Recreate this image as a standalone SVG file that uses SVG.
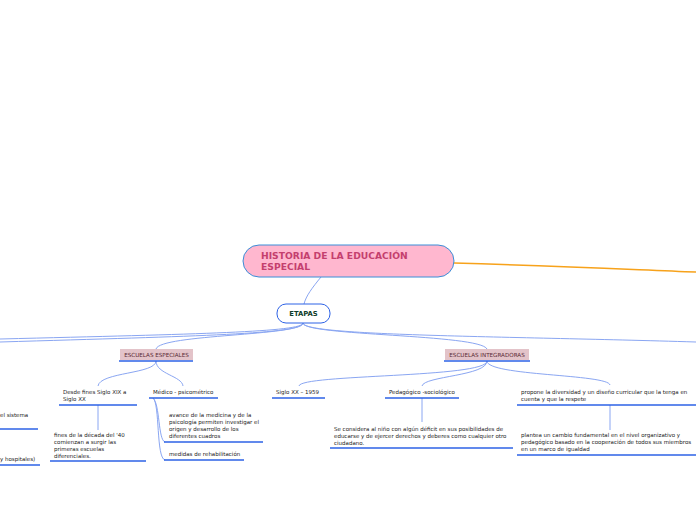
<svg xmlns="http://www.w3.org/2000/svg" width="696" height="520" viewBox="0 0 696 520">
<style>
.t{font-family:"DejaVu Sans",Verdana,sans-serif;font-size:5.5px;fill:#222}
.c{fill:none;stroke:#8aa6f2;stroke-width:1}
.u{stroke:#2d62e6;stroke-width:1.5;fill:none}
.lab{fill:#e3c3c9}
.lt{font-family:"DejaVu Sans",Verdana,sans-serif;font-size:5.6px;fill:#5a2a35}
</style>
<rect width="696" height="520" fill="#fff"/>
<g id="connectors">
<path d="M454,263 C560,266 620,269 696,272" stroke="#f7a21b" stroke-width="1.5" fill="none"/>
<path class="c" d="M321,277 C312,288 306,296 304,304" stroke="#3d7ee6"/>
<path class="c" d="M303,323 C303,332 200,334 0,339"/>
<path class="c" d="M303,323 C303,334 200,336 0,342"/>
<path class="c" d="M303,323 C303,336 160,334 156,349"/>
<path class="c" d="M303,323 C303,336 480,334 487,349"/>
<path class="c" d="M303,323 C303,336 500,336 696,342"/>
<path class="c" d="M156,361 C156,374 100,372 98,386"/>
<path class="c" d="M156,361 C156,374 182,376 183,386"/>
<path class="c" d="M98,405 L98,430"/>
<path class="c" d="M153,398 C160,404 158,440 165,442"/>
<path class="c" d="M153,398 C160,404 156,458 165,460"/>
<path class="c" d="M487,361 C487,378 300,374 299,386"/>
<path class="c" d="M487,361 C487,376 424,376 422,386"/>
<path class="c" d="M487,361 C487,376 608,374 610,385"/>
<path class="c" d="M422,398 L422,422"/>
<path class="c" d="M610,405 L610,430"/>
</g>
<g id="root">
<rect x="243" y="245" width="211" height="32" rx="16" fill="#ffb7cf" stroke="#3a8ed8" stroke-width="1"/>
<text x="261" y="259" font-family="DejaVu Sans,Verdana,sans-serif" font-size="9.2" font-weight="bold" fill="#c43f6e">HISTORIA DE LA EDUCACIÓN</text>
<text x="261" y="270" font-family="DejaVu Sans,Verdana,sans-serif" font-size="9.2" font-weight="bold" fill="#c43f6e">ESPECIAL</text>
</g>
<g id="etapas">
<rect x="277" y="304" width="53" height="19" rx="9" fill="#fff" stroke="#2d62e6" stroke-width="1"/>
<text x="303.5" y="316" text-anchor="middle" font-family="DejaVu Sans,Verdana,sans-serif" font-size="6.8" font-weight="bold" fill="#0f3d2b">ETAPAS</text>
</g>
<g id="escuelas-especiales">
<rect class="lab" x="120" y="349" width="73" height="11"/>
<text class="lt" x="156.5" y="357" text-anchor="middle">ESCUELAS ESPECIALES</text>
<line class="u" x1="119" y1="361" x2="193" y2="361"/>
</g>
<g id="escuelas-integradoras">
<rect class="lab" x="445" y="349" width="84" height="11"/>
<text class="lt" x="487" y="357" text-anchor="middle">ESCUELAS INTEGRADORAS</text>
<line class="u" x1="444" y1="361" x2="530" y2="361"/>
</g>
<g id="desde-fines">
<text class="t" x="63" y="394">Desde fines Siglo XIX  a</text>
<text class="t" x="63" y="401">Siglo XX</text>
<line class="u" x1="59" y1="405" x2="137" y2="405"/>
</g>
<g id="medico">
<text class="t" x="153" y="394">Médico - psicométrico</text>
<line class="u" x1="149" y1="398" x2="218" y2="398"/>
</g>
<g id="fines-40">
<text class="t" x="54" y="437">fines de la década del '40</text>
<text class="t" x="54" y="444">comienzan a surgir las</text>
<text class="t" x="54" y="451">primeras escuelas</text>
<text class="t" x="54" y="458">diferenciales.</text>
<line class="u" x1="50" y1="461" x2="146" y2="461"/>
</g>
<g id="avance">
<text class="t" x="169" y="417">avance de la medicina y de la</text>
<text class="t" x="169" y="424">psicología permiten investigar el</text>
<text class="t" x="169" y="431">origen y desarrollo de los</text>
<text class="t" x="169" y="438">diferentes cuadros</text>
<line class="u" x1="164" y1="442" x2="263" y2="442"/>
</g>
<g id="medidas">
<text class="t" x="169" y="456">medidas de rehabilitación</text>
<line class="u" x1="164" y1="460" x2="244" y2="460"/>
</g>
<g id="left-1">
<text class="t" x="0" y="417">el sistema</text>
<line class="u" x1="0" y1="429" x2="38" y2="429"/>
</g>
<g id="left-2">
<text class="t" x="0" y="461">y hospitales)</text>
<line class="u" x1="0" y1="465" x2="40" y2="465"/>
</g>
<g id="siglo-xx">
<text class="t" x="276" y="394">Siglo XX – 1959</text>
<line class="u" x1="272" y1="398" x2="325" y2="398"/>
</g>
<g id="pedagogico">
<text class="t" x="389" y="394">Pedagógico -sociológico</text>
<line class="u" x1="385" y1="398" x2="459" y2="398"/>
</g>
<g id="propone">
<text class="t" x="521" y="394">propone la diversidad y un diseño curricular que la tenga en</text>
<text class="t" x="521" y="401">cuenta y que la respete</text>
<line class="u" x1="517" y1="405" x2="696" y2="405"/>
</g>
<g id="se-considera">
<text class="t" x="334" y="431">Se considera al niño con algún déficit en sus posibilidades de</text>
<text class="t" x="334" y="438">educarse y de ejercer derechos y deberes como cualquier otro</text>
<text class="t" x="334" y="445">ciudadano.</text>
<line class="u" x1="330" y1="448" x2="513" y2="448"/>
</g>
<g id="plantea">
<text class="t" x="521" y="437">plantea un cambio fundamental en el nivel organizativo y</text>
<text class="t" x="521" y="444">pedagógico basado en la cooperación de todos sus miembros</text>
<text class="t" x="521" y="451">en un marco de igualdad</text>
<line class="u" x1="517" y1="455" x2="696" y2="455"/>
</g>
</svg>
